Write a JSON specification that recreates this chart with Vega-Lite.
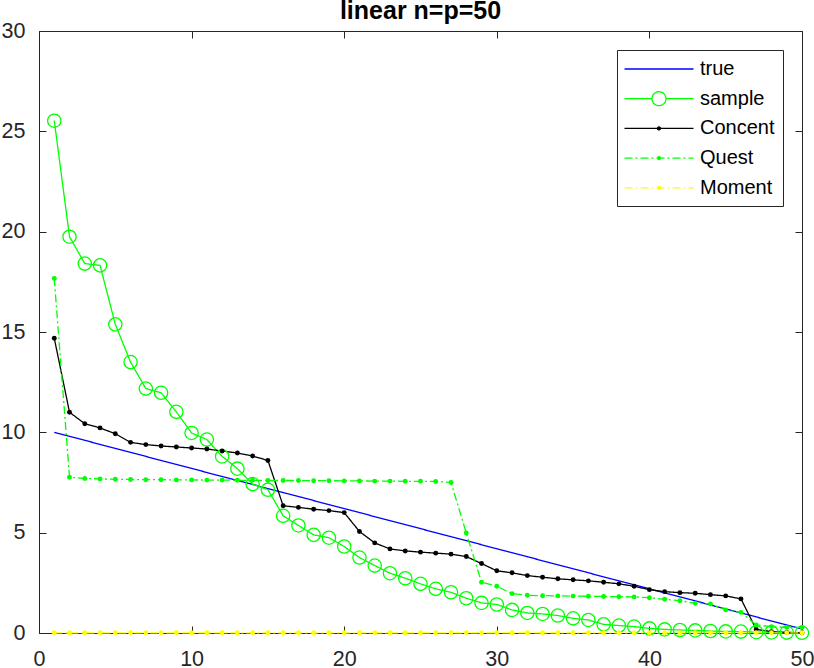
{
  "$schema": "https://vega.github.io/schema/vega-lite/v6.json",
  "width": 763,
  "height": 602,
  "autosize": {"type": "none"},
  "padding": {"left": 39, "top": 31, "right": 12, "bottom": 35},
  "background": "white",
  "title": {
    "text": "linear n=p=50",
    "font": "Liberation Sans",
    "fontSize": 25,
    "fontWeight": "bold",
    "color": "black",
    "anchor": "middle",
    "offset": -4
  },
  "data": {
    "values": [
      {"i": 1, "true": 10.0, "sample": 25.53, "Concent": 14.69, "Quest": 17.67, "Moment": 0.01},
      {"i": 2, "true": 9.8, "sample": 19.75, "Concent": 11.0, "Quest": 7.76, "Moment": 0.01},
      {"i": 3, "true": 9.6, "sample": 18.41, "Concent": 10.43, "Quest": 7.7, "Moment": 0.01},
      {"i": 4, "true": 9.4, "sample": 18.32, "Concent": 10.22, "Quest": 7.68, "Moment": 0.01},
      {"i": 5, "true": 9.2, "sample": 15.38, "Concent": 9.93, "Quest": 7.66, "Moment": 0.01},
      {"i": 6, "true": 9.0, "sample": 13.5, "Concent": 9.5, "Quest": 7.65, "Moment": 0.01},
      {"i": 7, "true": 8.8, "sample": 12.18, "Concent": 9.39, "Quest": 7.64, "Moment": 0.01},
      {"i": 8, "true": 8.6, "sample": 11.97, "Concent": 9.32, "Quest": 7.64, "Moment": 0.01},
      {"i": 9, "true": 8.4, "sample": 11.02, "Concent": 9.27, "Quest": 7.63, "Moment": 0.01},
      {"i": 10, "true": 8.2, "sample": 9.97, "Concent": 9.22, "Quest": 7.63, "Moment": 0.01},
      {"i": 11, "true": 8.0, "sample": 9.64, "Concent": 9.17, "Quest": 7.62, "Moment": 0.01},
      {"i": 12, "true": 7.8, "sample": 8.8, "Concent": 9.07, "Quest": 7.62, "Moment": 0.01},
      {"i": 13, "true": 7.6, "sample": 8.19, "Concent": 8.97, "Quest": 7.61, "Moment": 0.01},
      {"i": 14, "true": 7.4, "sample": 7.42, "Concent": 8.82, "Quest": 7.61, "Moment": 0.01},
      {"i": 15, "true": 7.2, "sample": 7.14, "Concent": 8.6, "Quest": 7.6, "Moment": 0.01},
      {"i": 16, "true": 7.0, "sample": 5.84, "Concent": 6.34, "Quest": 7.6, "Moment": 0.01},
      {"i": 17, "true": 6.8, "sample": 5.36, "Concent": 6.26, "Quest": 7.6, "Moment": 0.01},
      {"i": 18, "true": 6.6, "sample": 4.89, "Concent": 6.17, "Quest": 7.59, "Moment": 0.01},
      {"i": 19, "true": 6.4, "sample": 4.75, "Concent": 6.1, "Quest": 7.59, "Moment": 0.01},
      {"i": 20, "true": 6.2, "sample": 4.31, "Concent": 6.0, "Quest": 7.58, "Moment": 0.01},
      {"i": 21, "true": 6.0, "sample": 3.76, "Concent": 5.06, "Quest": 7.58, "Moment": 0.01},
      {"i": 22, "true": 5.8, "sample": 3.36, "Concent": 4.49, "Quest": 7.57, "Moment": 0.01},
      {"i": 23, "true": 5.6, "sample": 2.98, "Concent": 4.19, "Quest": 7.57, "Moment": 0.01},
      {"i": 24, "true": 5.4, "sample": 2.73, "Concent": 4.09, "Quest": 7.56, "Moment": 0.01},
      {"i": 25, "true": 5.2, "sample": 2.45, "Concent": 4.03, "Quest": 7.56, "Moment": 0.01},
      {"i": 26, "true": 5.0, "sample": 2.2, "Concent": 3.98, "Quest": 7.55, "Moment": 0.01},
      {"i": 27, "true": 4.8, "sample": 2.03, "Concent": 3.93, "Quest": 7.5, "Moment": 0.01},
      {"i": 28, "true": 4.6, "sample": 1.73, "Concent": 3.81, "Quest": 4.98, "Moment": 0.01},
      {"i": 29, "true": 4.4, "sample": 1.5, "Concent": 3.46, "Quest": 2.53, "Moment": 0.01},
      {"i": 30, "true": 4.2, "sample": 1.42, "Concent": 3.1, "Quest": 2.33, "Moment": 0.01},
      {"i": 31, "true": 4.0, "sample": 1.15, "Concent": 3.0, "Quest": 1.96, "Moment": 0.01},
      {"i": 32, "true": 3.8, "sample": 1.0, "Concent": 2.86, "Quest": 1.88, "Moment": 0.01},
      {"i": 33, "true": 3.6, "sample": 0.95, "Concent": 2.78, "Quest": 1.86, "Moment": 0.01},
      {"i": 34, "true": 3.4, "sample": 0.87, "Concent": 2.7, "Quest": 1.85, "Moment": 0.01},
      {"i": 35, "true": 3.2, "sample": 0.73, "Concent": 2.65, "Quest": 1.84, "Moment": 0.01},
      {"i": 36, "true": 3.0, "sample": 0.65, "Concent": 2.6, "Quest": 1.83, "Moment": 0.01},
      {"i": 37, "true": 2.8, "sample": 0.43, "Concent": 2.53, "Quest": 1.82, "Moment": 0.01},
      {"i": 38, "true": 2.6, "sample": 0.37, "Concent": 2.45, "Quest": 1.81, "Moment": 0.01},
      {"i": 39, "true": 2.4, "sample": 0.32, "Concent": 2.33, "Quest": 1.8, "Moment": 0.01},
      {"i": 40, "true": 2.2, "sample": 0.23, "Concent": 2.16, "Quest": 1.76, "Moment": 0.01},
      {"i": 41, "true": 2.0, "sample": 0.18, "Concent": 2.06, "Quest": 1.68, "Moment": 0.01},
      {"i": 42, "true": 1.8, "sample": 0.15, "Concent": 2.01, "Quest": 1.61, "Moment": 0.01},
      {"i": 43, "true": 1.6, "sample": 0.13, "Concent": 1.98, "Quest": 1.48, "Moment": 0.01},
      {"i": 44, "true": 1.4, "sample": 0.1, "Concent": 1.91, "Quest": 1.45, "Moment": 0.01},
      {"i": 45, "true": 1.2, "sample": 0.08, "Concent": 1.85, "Quest": 1.15, "Moment": 0.01},
      {"i": 46, "true": 1.0, "sample": 0.07, "Concent": 1.7, "Quest": 1.03, "Moment": 0.01},
      {"i": 47, "true": 0.8, "sample": 0.04, "Concent": 0.18, "Quest": 0.4, "Moment": 0.01},
      {"i": 48, "true": 0.6, "sample": 0.03, "Concent": 0.07, "Quest": 0.32, "Moment": 0.01},
      {"i": 49, "true": 0.4, "sample": 0.02, "Concent": 0.03, "Quest": 0.28, "Moment": 0.01},
      {"i": 50, "true": 0.2, "sample": 0.01, "Concent": 0.01, "Quest": 0.28, "Moment": 0.01}
    ]
  },
  "transform": [
    {"fold": ["true", "sample", "Concent", "Quest", "Moment"], "as": ["series", "value"]}
  ],
  "encoding": {
    "x": {"field": "i", "type": "quantitative", "axis": null, "scale": {"domain": [0, 50], "nice": false, "zero": false}},
    "y": {"field": "value", "type": "quantitative", "axis": null, "scale": {"domain": [0, 30], "nice": false}},
    "color": {
      "field": "series",
      "type": "nominal",
      "scale": {
        "domain": ["true", "sample", "Concent", "Quest", "Moment"],
        "range": ["#0000ff", "#00ff00", "#000000", "#00ff00", "#ffff00"]
      }
    }
  },
  "layer": [
    {
      "mark": {"type": "line", "strokeWidth": 1.3},
      "encoding": {
        "x": {
          "field": "i", "type": "quantitative",
          "axis": {
            "orient": "bottom", "values": [0, 10, 20, 30, 40, 50], "title": null, "grid": false,
            "domainColor": "#262626", "domainWidth": 1, "tickColor": "#262626", "tickSize": -7, "tickWidth": 1,
            "labelFont": "Liberation Sans", "labelFontSize": 21.5, "labelColor": "#262626", "labelPadding": 22,
            "labelFlush": false
          }
        },
        "y": {
          "field": "value", "type": "quantitative",
          "axis": {
            "orient": "left", "values": [0, 5, 10, 15, 20, 25, 30], "title": null, "grid": false,
            "domainColor": "#262626", "domainWidth": 1, "tickColor": "#262626", "tickSize": -7, "tickWidth": 1,
            "labelFont": "Liberation Sans", "labelFontSize": 21.5, "labelColor": "#262626", "labelPadding": 21,
            "labelFlush": false
          }
        },
        "strokeDash": {
          "field": "series",
          "type": "nominal",
          "scale": {
            "domain": ["true", "sample", "Concent", "Quest", "Moment"],
            "range": [[1, 0], [1, 0], [1, 0], [8, 3, 2, 3], [8, 3, 2, 3]]
          }
        },
        "color": {
          "field": "series",
          "type": "nominal",
          "legend": {
            "orient": "none",
            "legendX": 578,
            "legendY": 19,
            "title": null,
            "strokeColor": "#262626",
            "fillColor": "white",
            "padding": 8,
            "rowPadding": 8.7,
            "symbolSize": 400,
            "symbolOffset": 23,
            "symbolFillColor": "transparent",
            "labelOffset": 30,
            "labelFont": "Liberation Sans",
            "labelFontSize": 20,
            "labelColor": "black",
            "encode": {
              "symbols": {
                "update": {
                  "shape": {"signal": "datum.value === 'true' ? 'M-3.45,0L3.45,0' : datum.value === 'sample' ? 'M-3.45,0L-0.7,0M0.7,0L3.45,0M-0.7,0A0.7,0.7,0,1,1,0.7,0A0.7,0.7,0,1,1,-0.7,0' : 'M-3.45,0L3.45,0M-0.15,0A0.15,0.15,0,1,1,0.15,0A0.15,0.15,0,1,1,-0.15,0M-0.06,0A0.06,0.06,0,1,1,0.06,0A0.06,0.06,0,1,1,-0.06,0'"},
                  "fill": {"value": "transparent"},
                  "fillOpacity": {"value": 0},
                  "strokeWidth": {"value": 1.3},
                  "opacity": {"value": 1}
                }
              }
            }
          }
        }
      }
    },
    {
      "transform": [{"filter": "datum.series === 'sample'"}],
      "mark": {"type": "point", "shape": "circle", "filled": false, "size": 177, "strokeWidth": 1.3, "opacity": 1},
      "encoding": {
        "color": {"field": "series", "type": "nominal", "legend": null}
      }
    },
    {
      "transform": [{"filter": "datum.series === 'Concent' || datum.series === 'Quest' || datum.series === 'Moment'"}],
      "mark": {"type": "circle", "size": 24, "opacity": 1},
      "encoding": {
        "color": {"field": "series", "type": "nominal", "legend": null}
      }
    },
    {
      "mark": {"type": "rule", "opacity": 0},
      "encoding": {
        "x": {
          "field": "i", "type": "quantitative",
          "axis": {
            "orient": "top", "values": [0, 10, 20, 30, 40, 50], "title": null, "grid": false, "labels": false,
            "domainColor": "#262626", "domainWidth": 1, "tickColor": "#262626", "tickSize": -7, "tickWidth": 1
          }
        },
        "y": {
          "field": "value", "type": "quantitative",
          "axis": {
            "orient": "right", "values": [0, 5, 10, 15, 20, 25, 30], "title": null, "grid": false, "labels": false,
            "domainColor": "#262626", "domainWidth": 1, "tickColor": "#262626", "tickSize": -7, "tickWidth": 1
          }
        },
        "color": {"value": "white"}
      }
    }
  ],
  "resolve": {"axis": {"x": "independent", "y": "independent"}},
  "config": {"view": {"stroke": null}}
}
